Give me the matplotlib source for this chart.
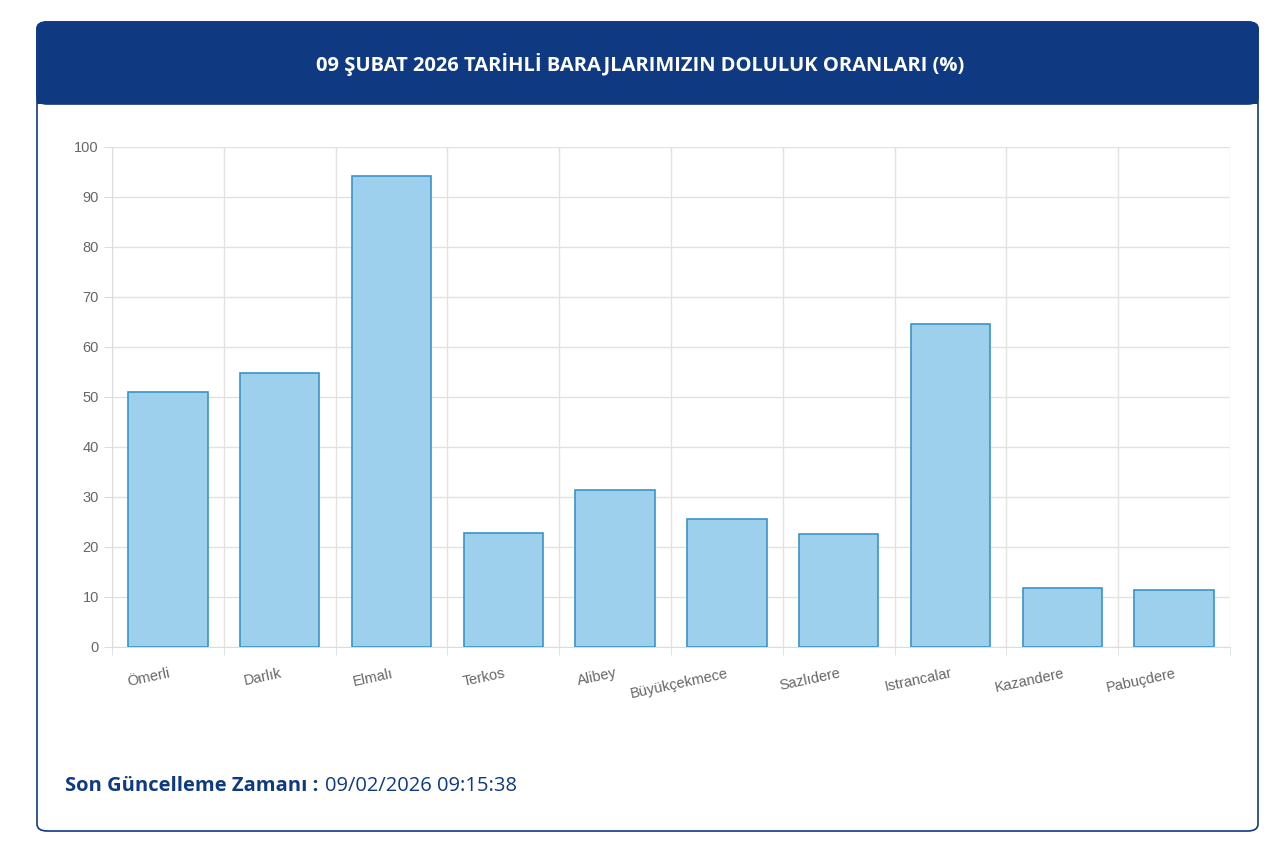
import matplotlib
matplotlib.use("Agg")
import matplotlib.pyplot as plt
from matplotlib.patches import FancyBboxPatch, Rectangle

names = ["Ömerli", "Darlık", "Elmalı", "Terkos", "Alibey", "Büyükçekmece",
         "Sazlıdere", "Istrancalar", "Kazandere", "Pabuçdere"]
values = [51.0, 54.8, 94.2, 22.8, 31.4, 25.6, 22.6, 64.6, 11.8, 11.4]
yticks = list(range(0, 101, 10))

W, H = 1280, 860
fig = plt.figure(figsize=(W/100, H/100), dpi=100)
fig.patch.set_facecolor("white")
navy = "#0f3a82"

card = FancyBboxPatch((37/W, (H-831)/H), (1258-37)/W, (831-22)/H,
                      boxstyle="round,pad=0,rounding_size=0.008",
                      transform=fig.transFigure, fc="white", ec=navy, lw=1.2, zorder=-10)
fig.patches.append(card)
hdr = FancyBboxPatch((37/W, (H-104)/H), (1258-37)/W, (104-22)/H,
                     boxstyle="round,pad=0,rounding_size=0.008",
                     transform=fig.transFigure, fc=navy, ec=navy, lw=1.2, zorder=-9)
fig.patches.append(hdr)
fig.patches.append(Rectangle((37/W, (H-104)/H), (1258-37)/W, 20/H,
                             transform=fig.transFigure, fc=navy, ec="none", zorder=-9))
fig.text(0.5, (H-64)/H, "09 ŞUBAT 2026 TARİHLİ BARAJLARIMIZIN DOLULUK ORANLARI (%)",
         color="white", ha="center", va="center", fontsize=14.5, fontweight="bold",
         family="Open Sans")

ax = fig.add_axes([112/W, (H-647)/H, (1230-112)/W, 500/H], zorder=5)
ax.patch.set_alpha(0)
x = range(len(names))
ax.bar(x, values, width=0.71, color="#9dd0ec", edgecolor="#3a95c8", linewidth=1.2, zorder=3)
ax.set_xlim(-0.5, len(names)-0.5)
ax.set_ylim(0, 100)
ax.set_yticks(yticks)
ax.set_xticks([i + 0.5 for i in range(-1, len(names))], minor=True)
ax.set_xticks(list(x))
ax.set_xticklabels(names, rotation=12, ha="right", rotation_mode="anchor",
                   color="#666666", fontsize=10.5, family="Liberation Sans")
for lab in ax.get_yticklabels():
    lab.set_family("Liberation Sans")
ax.tick_params(axis="y", colors="#666666", labelsize=10.5, length=6, color="#dddddd")
ax.tick_params(axis="x", length=0, pad=14)
ax.tick_params(axis="x", which="minor", length=6, color="#dddddd")
ax.grid(axis="y", color="#e2e2e2", lw=1, zorder=0)
ax.grid(axis="x", which="minor", color="#e2e2e2", lw=1, zorder=0)
for s in ["top", "right"]:
    ax.spines[s].set_visible(False)
for s in ["left", "bottom"]:
    ax.spines[s].set_color("#dddddd")

fig.text(65/W, (H-786)/H, "Son Güncelleme Zamanı :", color=navy, fontsize=14.5,
         fontweight="bold", va="center", family="Open Sans")
fig.text(325/W, (H-786)/H, "09/02/2026 09:15:38", color=navy, fontsize=14.5,
         va="center", family="Open Sans")
fig.savefig("out.png", dpi=100)
